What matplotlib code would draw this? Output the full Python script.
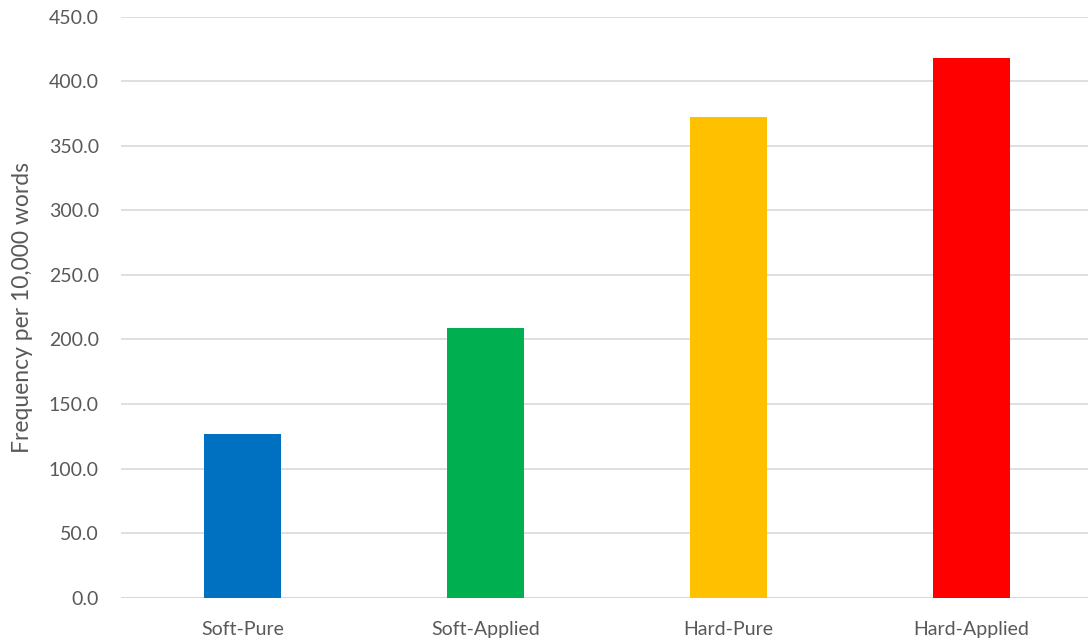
import matplotlib
matplotlib.use("Agg")
import matplotlib.pyplot as plt

categories = ["Soft-Pure", "Soft-Applied", "Hard-Pure", "Hard-Applied"]
values = [126.8, 208.9, 372.6, 418.3]
bar_colors = ["#0070C0", "#00B050", "#FFC000", "#FF0000"]
yticks = [0, 50, 100, 150, 200, 250, 300, 350, 400, 450]

plt.rcParams['font.family'] = ['Lato', 'DejaVu Sans']
text_color = "#595959"

fig = plt.figure(figsize=(10.88, 6.43), dpi=100)
ax = fig.add_axes([121 / 1088, 45.3 / 643, 972 / 1088, 581 / 643])

x = range(len(categories))
ax.bar(x, values, width=0.317, color=bar_colors, zorder=2)

ax.set_xlim(-0.5, 3.5)
ax.set_ylim(0, 450)
ax.set_yticks(yticks)
ax.set_yticklabels([f"{v:.1f}" for v in yticks])
ax.set_xticks(list(x))
ax.set_xticklabels(categories)

ax.grid(axis="y", color="#d9d9d9", linewidth=1.2, zorder=0)
ax.set_axisbelow(True)
for s in ax.spines.values():
    s.set_visible(False)
ax.axhline(0, color="#d9d9d9", linewidth=1.5, zorder=1)

ax.tick_params(axis="y", length=0, pad=16, labelsize=14, labelcolor=text_color)
ax.tick_params(axis="x", length=0, pad=17, labelsize=14, labelcolor=text_color)

ax.set_ylabel("Frequency per 10,000 words", fontsize=16.5, color=text_color)
ax.yaxis.set_label_coords(-0.091, 0.5)

fig.savefig("out.png", dpi=100)
